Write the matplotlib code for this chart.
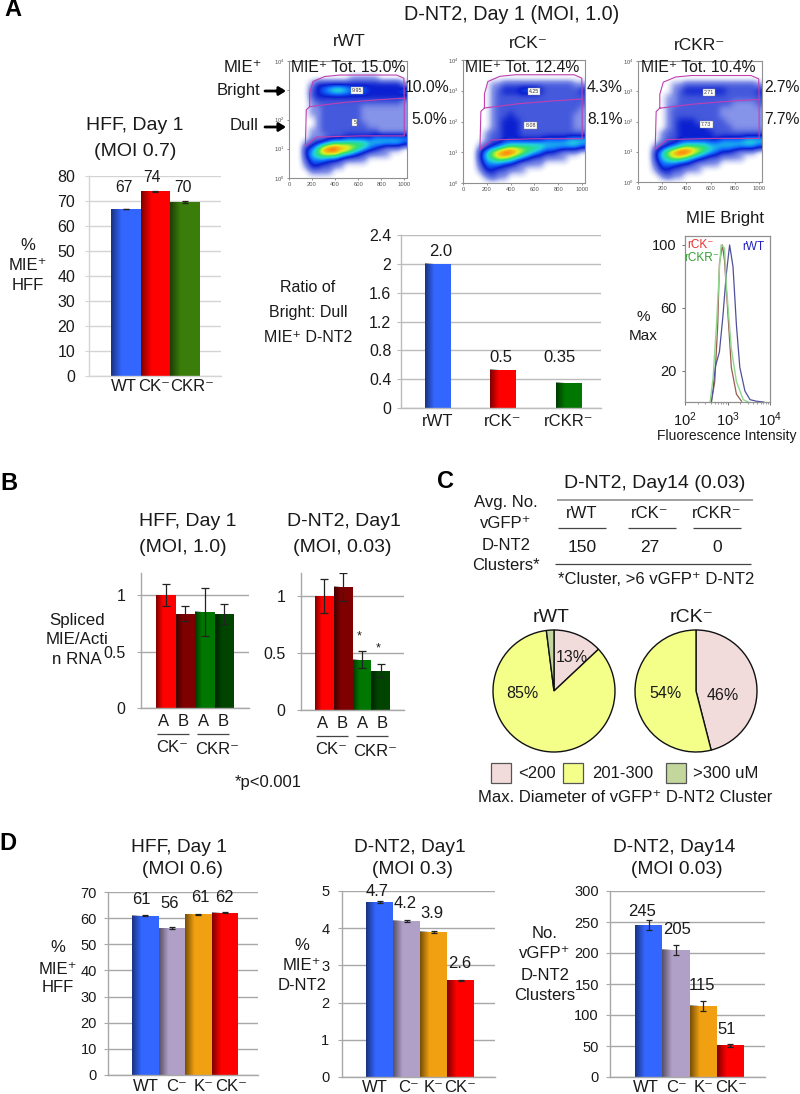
import numpy as np
import matplotlib
matplotlib.use("Agg")
import matplotlib.pyplot as plt
from matplotlib.colors import LinearSegmentedColormap
from matplotlib.patches import Rectangle
from matplotlib.transforms import ScaledTranslation

plt.rcParams['font.family'] = ['Liberation Sans', 'DejaVu Sans']
plt.rcParams['mathtext.fontset'] = 'custom'
plt.rcParams['mathtext.rm'] = 'Liberation Sans'
plt.rcParams['mathtext.it'] = 'Liberation Sans:italic'
plt.rcParams['mathtext.bf'] = 'Liberation Sans:bold'
plt.rcParams['mathtext.default'] = 'regular'

# ---------- data ----------
hff_a_labels = ['WT', 'CK\u207b', 'CKR\u207b']
hff_a_values = [66.7, 73.8, 69.5]
hff_a_err = [0.1, 0.3, 0.3]
ratio_labels = ['rWT', 'rCK\u207b', 'rCKR\u207b']
ratio_values = [2.0, 0.53, 0.35]

hist_rwt_x = [2.62, 2.66, 2.71, 2.81, 2.89, 2.97, 3.05, 3.13, 3.21, 3.29, 3.41, 3.53, 3.68, 3.85]
hist_rwt_y = [0, 8, 22, 32, 54, 81, 100, 86, 49, 22, 7, 1.5, 0.5, 0]
hist_rck_x = [2.62, 2.70, 2.77, 2.81, 2.88, 2.93, 3.01, 3.09, 3.21, 3.33]
hist_rck_y = [0, 13, 49, 88, 100, 90, 56, 22, 5, 0.5]
hist_rckr_x = [2.59, 2.66, 2.74, 2.81, 2.85, 2.93, 2.97, 3.09, 3.21, 3.37, 3.49]
hist_rckr_y = [0, 15, 49, 85, 100, 98, 75, 34, 13, 1.5, 0]

rna_labels = ['A', 'B', 'A', 'B']
rna_hff_values = [1.0, 0.83, 0.85, 0.83]
rna_hff_low = [0.90, 0.77, 0.64, 0.74]
rna_hff_high = [1.10, 0.90, 1.06, 0.92]
rna_dnt_values = [1.0, 1.08, 0.44, 0.34]
rna_dnt_low = [0.85, 0.96, 0.37, 0.29]
rna_dnt_high = [1.15, 1.20, 0.52, 0.40]

pie_rwt = [13, 85, 2]
pie_rck = [46, 54]
table_cols = ['rWT', 'rCK\u207b', 'rCKR\u207b']
table_vals = ['150', '27', '0']
legend_names = ['<200', '201-300', '>300 uM']

d_labels = ['WT', 'C\u207b', 'K\u207b', 'CK\u207b']
d_hff_values = [61.0, 56.2, 61.5, 62.1]
d_hff_err = [0.25, 0.25, 0.25, 0.25]
d_dnt1_values = [4.7, 4.2, 3.9, 2.6]
d_dnt1_err = [0.02, 0.02, 0.02, 0.02]
d_dnt14_values = [245, 205, 115, 51]
d_dnt14_err = [8, 8, 8, 2]

# flow cytometry density: rows are log10 levels 4.0 .. 0.0
# in 0.2 steps, columns are FSC 0 .. 1000 in 50 steps, digit = density class
flow_rwt = [
    "000000000000000000000",
    "000000000000000000000",
    "000000000000000000000",
    "000000000001111100000",
    "000013333333333333331",
    "000023456654443333334",
    "000023333333333333333",
    "000012222222222222221",
    "000011222222211111111",
    "000011222222211111111",
    "000001222222211111111",
    "000001222222221111111",
    "000011222222222211111",
    "000011122233333444444",
    "000123456666665555554",
    "000346899887654321110",
    "000356777654321111000",
    "000244433211110000000",
    "000133221100000000000",
    "000011110000000000000",
    "000000000000000000000",
]
flow_rck = [
    "000000000000000000000",
    "000000000000000000000",
    "000000000000000000000",
    "000000000000000000000",
    "000001122222222222211",
    "000001233344432222223",
    "000001222222222222222",
    "000001222222222222222",
    "000001222222222222221",
    "000001223222222222211",
    "000001233322222222211",
    "000001233322222222211",
    "000012233322222222222",
    "000012233333334444555",
    "000123456666665555554",
    "000357899876543321110",
    "000356776543221111000",
    "000244433211110000000",
    "000133221110000000000",
    "000012110000000000000",
    "000000000000000000000",
]
flow_rckr = [
    "000000000000000000000",
    "000000000000000000000",
    "000000000000000000000",
    "000000000000000000000",
    "000000112222222222221",
    "000000123333333222223",
    "000001122222222222222",
    "000001122222222211112",
    "000001222222221111111",
    "000001222222221111111",
    "000001233322222111111",
    "000001233333222211111",
    "000012233333322222222",
    "000012233333334444555",
    "000123456666555555554",
    "000357899876543321110",
    "000356776543221111000",
    "000244433211110000000",
    "000133221110000000000",
    "000012110000000000000",
    "000000000000000000000",
]
gate_bright_x = [180, 180, 209, 310, 440, 933, 997, 1000, 759, 470, 180]
gate_bright_y = [2.44, 2.90, 3.30, 3.47, 3.52, 3.52, 3.41, 2.73, 2.67, 2.58, 2.44]
gate_dull_x = [180, 150, 142, 238, 615, 1000, 1000]
gate_dull_y = [2.44, 2.33, 1.08, 1.40, 1.44, 1.44, 2.73]

# ---------- colours ----------
BLUE, RED, GREEN = '#3366ff', '#ff0000', '#3a7d0a'
DGREEN, DRED, DDGREEN = '#007700', '#7f0000', '#004400'
LAV, ORG = '#b0a0c8', '#f0a010'
PINK, YEL, OLV = '#f2dcdb', '#f4ff8a', '#c3d69b'
TXT = '#1a1a1a'
GRID = '#a8a8a8'
flow_cmap = LinearSegmentedColormap.from_list('flow', [
    (0 / 9, '#ffffff'), (1 / 9, '#8492e8'), (2 / 9, '#4458dc'), (3 / 9, '#0a20d0'),
    (4 / 9, '#1070ff'), (5 / 9, '#20d0e0'), (6 / 9, '#30e070'), (7 / 9, '#e0f020'),
    (8 / 9, '#ff9010'), (9 / 9, '#e02010')])

fig = plt.figure(figsize=(8, 10.94), dpi=100, facecolor='white')


def ax_px(l, t, r, b):
    return fig.add_axes([l / 800, 1 - b / 1094, (r - l) / 800, (b - t) / 1094])


shade = np.zeros((1, 40, 4))
shade[0, :, 3] = np.clip(0.5 * (1 - np.linspace(0, 1, 40) / 0.35), 0, 1)


def bar_chart(box, first, width, values, colors, ylim, yticks, ylabels, xlabels,
              err=None, low=None, high=None, ysize=11, xsize=12, pad=5, xoff=None,
              grid=GRID, xpad=3):
    l, t, r, b = box
    ax = ax_px(l, t, r, b)
    x0 = -0.5 - (first - l) / width
    xlim = (x0, x0 + (r - l) / width)
    xs = np.arange(len(values))
    bars = ax.bar(xs, values, width=1.0, color=colors, zorder=2)
    for bar in bars:
        ax.imshow(shade, extent=(bar.get_x(), bar.get_x() + bar.get_width(), 0, bar.get_height()),
                  aspect='auto', zorder=2.5)
    if err is not None:
        ax.errorbar(xs, values, yerr=err, fmt='none', ecolor='#222222', elinewidth=0.9,
                    capsize=2.5, capthick=0.9, zorder=3)
    if low is not None:
        lo = np.array(values) - np.array(low)
        hi = np.array(high) - np.array(values)
        ax.errorbar(xs, values, yerr=[lo, hi], fmt='none', ecolor='#222222', elinewidth=0.9,
                    capsize=3, capthick=0.9, zorder=3)
    ax.set_xlim(*xlim)
    ax.set_ylim(*ylim)
    ax.set_yticks(yticks)
    ax.set_yticklabels(ylabels, fontsize=ysize, color=TXT)
    ax.set_xticks(xs)
    ax.set_xticklabels(xlabels, fontsize=xsize, color=TXT)
    ax.tick_params(axis='y', length=3, color=grid, pad=pad)
    ax.tick_params(axis='x', length=0, pad=xpad)
    ax.set_axisbelow(True)
    ax.grid(axis='y', color=grid, lw=1)
    for s in ('top', 'right'):
        ax.spines[s].set_visible(False)
    for s in ('left', 'bottom'):
        ax.spines[s].set_color(grid)
        ax.spines[s].set_linewidth(1)
    if xoff is not None:
        for lab, dx in zip(ax.get_xticklabels(), xoff):
            lab.set_transform(lab.get_transform() + ScaledTranslation(dx / 100, 0, fig.dpi_scale_trans))
    return ax


def flow_plot(box, grid_rows, tags):
    l, t, r, b = box
    ax = ax_px(l, t, r, b)
    arr = np.array([[int(c) for c in row] for row in grid_rows], dtype=float)
    ax.imshow(arr, extent=(-25, 1025, -0.1, 4.1), origin='upper', aspect='auto', cmap=flow_cmap,
              vmin=0, vmax=9, interpolation='bicubic', zorder=1)
    ax.plot(gate_bright_x, gate_bright_y, color='#c040b0', lw=0.8, zorder=2)
    ax.plot(gate_dull_x, gate_dull_y, color='#c040b0', lw=0.8, zorder=2)
    ax.set_xlim(0, 1024)
    ax.set_ylim(0, 4)
    ax.set_xticks([0, 200, 400, 600, 800, 1000])
    ax.set_xticklabels(['0', '200', '400', '600', '800', '1000'], fontsize=4.2, color='#555555')
    ax.set_yticks([0, 1, 2, 3, 4])
    ax.set_yticklabels(['$10^{%d}$' % i for i in range(5)], fontsize=4.2, color='#555555')
    ax.tick_params(length=1.5, width=0.5, color='#666666', pad=1.5)
    for s in ax.spines.values():
        s.set_color('#909090')
        s.set_linewidth(0.8)
    for tx, ty, ts in tags:
        ax.text(tx, ty, ts, fontsize=3.8, ha='center', va='center', color='#333333', zorder=4,
                bbox=dict(fc='white', ec='#888888', lw=0.3, pad=0.8))
    return ax


# ---------- panel A ----------
bar_chart((89, 176, 221, 376), 111, 29.5, hff_a_values, [BLUE, RED, GREEN], (0, 80),
          list(range(0, 90, 10)), [str(v) for v in range(0, 90, 10)], hff_a_labels,
          err=hff_a_err, ysize=11.5, pad=7, grid='#d4d4d4', xoff=[-2, -1, 7], xpad=2)
bar_chart((401, 235, 601, 408), 425, 26, [ratio_values[0]], [BLUE], (0, 2.4),
          [0, 0.4, 0.8, 1.2, 1.6, 2, 2.4], ['0', '0.4', '0.8', '1.2', '1.6', '2', '2.4'],
          [ratio_labels[0]], ysize=11.5, pad=4, xpad=4, grid='#bcbcbc', xoff=[0])
ratio_ax = fig.axes[-1]
for i, (v, c, left) in enumerate(zip(ratio_values[1:], [RED, DGREEN], [490, 556])):
    pos = (left + 13 - 425) / 26 - 0.5
    ratio_ax.bar(pos, v, width=1.0, color=c, zorder=2)
    ratio_ax.imshow(shade, extent=(pos - 0.5, pos + 0.5, 0, v), aspect='auto', zorder=2.5)
ratio_ax.set_xlim(-0.5 - 24 / 26, -0.5 - 24 / 26 + 200 / 26)
ratio_ax.set_ylim(0, 2.4)
ratio_ax.set_xticks([0, (490 + 13 - 425) / 26 - 0.5, (556 + 13 - 425) / 26 - 0.5])
ratio_ax.set_xticklabels(ratio_labels, fontsize=12, color=TXT)

flow_plot((289, 61, 407, 178), flow_rwt, [(591, 2.99, '9.95'), (571, 1.9, '5')])
flow_plot((463, 60, 585, 183), flow_rck, [(594, 2.97, '4.25'), (569, 1.88, '8.08')])
flow_plot((638, 61, 762, 182), flow_rckr, [(586, 2.96, '2.71'), (565, 1.9, '7.73')])

hist = ax_px(685, 236, 770, 402)
hist.plot(np.power(10.0, hist_rck_x), hist_rck_y, color='#9a5a50', lw=0.9)
hist.plot(np.power(10.0, hist_rwt_x), hist_rwt_y, color='#50509a', lw=0.9)
hist.plot(np.power(10.0, hist_rckr_x), hist_rckr_y, color='#90d890', lw=1.0)
hist.set_xscale('log')
hist.set_xlim(100, 10000)
hist.set_ylim(0, 105.7)
hist.set_yticks([20, 60, 100])
hist.set_yticklabels(['20', '60', '100'], fontsize=10.5, color=TXT)
hist.set_xticks([100, 1000, 10000])
hist.set_xticklabels(['$10^{2}$', '$10^{3}$', '$10^{4}$'], fontsize=10.5, color=TXT)
hist.tick_params(axis='both', length=2, width=0.6, color='#555555', pad=4)
hist.tick_params(axis='x', which='minor', length=1.2, width=0.4, color='#555555')
for s in hist.spines.values():
    s.set_color('#909090')
    s.set_linewidth(0.9)

# ---------- panel B ----------
bar_chart((141, 573, 249, 708), 156, 19.5, rna_hff_values, [RED, DRED, DGREEN, DDGREEN], (0, 1.195),
          [0, 0.5, 1], ['0', '0.5', '1'], rna_labels, low=rna_hff_low, high=rna_hff_high,
          ysize=11.5, pad=8, xpad=4, xoff=[-2, -2, -1, -1])
bar_chart((301, 573, 404, 710), 315, 18.75, rna_dnt_values, [RED, DRED, DGREEN, DDGREEN], (0, 1.202),
          [0, 0.5, 1], ['0', '0.5', '1'], rna_labels, low=rna_dnt_low, high=rna_dnt_high,
          ysize=11.5, pad=8, xpad=4, xoff=[-2, -1, 1, 2])

# ---------- panel C ----------
for cx, vals, cols in [(554, pie_rwt, [PINK, YEL, OLV]), (696, pie_rck, [PINK, YEL])]:
    pax = ax_px(cx - 62, 691 - 62, cx + 62, 691 + 62)
    pax.pie(vals, colors=cols, startangle=90, counterclock=False, radius=61 / 62,
            wedgeprops=dict(edgecolor='#111111', linewidth=1.0))
    pax.set_xlim(-1, 1)
    pax.set_ylim(-1, 1)

# ---------- panel D ----------
d_cols = [BLUE, LAV, ORG, RED]
bar_chart((108, 892, 258, 1075), 132, 26.5, d_hff_values, d_cols, (0, 70),
          list(range(0, 80, 10)), [str(v) for v in range(0, 80, 10)], d_labels,
          err=d_hff_err, ysize=10.5, pad=5, xoff=[1, 5, 5, 6], xpad=3)
bar_chart((342, 891, 495, 1077), 366, 27, d_dnt1_values, d_cols, (0, 5),
          [0, 1, 2, 3, 4, 5], ['0', '1', '2', '3', '4', '5'], d_labels,
          err=d_dnt1_err, ysize=10.5, pad=6, xoff=[-5, 2, 0, 0], xpad=2)
bar_chart((610, 891, 765, 1077), 635, 27.25, d_dnt14_values, d_cols, (0, 300),
          list(range(0, 350, 50)), [str(v) for v in range(0, 350, 50)], d_labels,
          err=d_dnt14_err, ysize=10.5, pad=5, xoff=[-3, 1, 0, 1], xpad=2)

# ---------- overlay text and furniture in pixel coordinates ----------
ov = fig.add_axes([0, 0, 1, 1], facecolor='none')
ov.set_xlim(0, 800)
ov.set_ylim(1094, 0)
ov.axis('off')


def T(x, y, s, size=12, color=TXT, weight='normal', ha='center'):
    ov.text(x, y, s, fontsize=size, color=color, weight=weight, ha=ha, va='center')


def L(x0, x1, y, color='#444444', lw=0.9):
    ov.plot([x0, x1], [y, y], color=color, lw=lw, solid_capstyle='butt')


for x, y, s in [(13, 10, 'A'), (9, 483, 'B'), (446, 481, 'C'), (8, 843, 'D')]:
    T(x, y, s, size=17, color='black', weight='bold')

T(512, 15, 'D-NT2, Day 1 (MOI, 1.0)', 14.2)
T(349, 42, 'rWT', 12.5)
T(528, 44, 'rCK\u207b', 12.5)
T(700, 45, 'rCKR\u207b', 12.5)
T(348, 68, 'MIE\u207a Tot. 15.0%', 11.3)
T(522, 68, 'MIE\u207a Tot. 12.4%', 11.3)
T(698, 68, 'MIE\u207a Tot. 10.4%', 11.3)
for x, a, b in [(427, '10.0%', '5.0%'), (605, '4.3%', '8.1%'), (782, '2.7%', '7.7%')]:
    T(x, 87, a, 11.3)
    T(x + (2 if a == '10.0%' else 0), 119, b, 11.3)
T(243, 68, 'MIE\u207a', 12)
T(239, 90, 'Bright', 12)
T(244, 125, 'Dull', 12)
for y in (91, 127):
    ov.annotate('', xy=(286, y), xytext=(265, y),
                arrowprops=dict(arrowstyle='-|>,head_width=0.25,head_length=0.4', color='black', lw=2, shrinkA=0, shrinkB=0))

T(135, 126, 'HFF, Day 1', 14)
T(135, 152, '(MOI 0.7)', 14)
T(28, 246, '%', 12)
T(28, 266, 'MIE\u207a', 12)
T(28, 286, 'HFF', 12)
for x, y, s in [(124, 187, '67'), (152, 177, '74'), (183, 187, '70')]:
    T(x, y, s, 11.3)

T(308, 288, 'Ratio of', 11.5)
T(308, 313, 'Bright: Dull', 11.5)
T(308, 337, 'MIE\u207a D-NT2', 11.5)
for x, y, s in [(441, 251, '2.0'), (501, 358, '0.5'), (559, 358, '0.35')]:
    T(x, y, s, 12)

T(725, 219, 'MIE Bright', 12)
T(643, 317, '%', 11)
T(643, 336, 'Max', 11)
T(727, 436, 'Fluorescence Intensity', 10)
T(700, 245, 'rCK\u207b', 8.5, color='#e83030')
T(702, 258, 'rCKR\u207b', 8.5, color='#30a030')
T(753, 247, 'rWT', 8.5, color='#2020c0')

T(188, 521, 'HFF, Day 1', 14)
T(183, 547, '(MOI, 1.0)', 14)
T(344, 521, 'D-NT2, Day1', 14)
T(342, 547, '(MOI, 0.03)', 14)
T(77, 620, 'Spliced', 12.2)
T(77, 640, 'MIE/Acti', 12.2)
T(77, 660, 'n RNA', 12.2)
for x0, x1, y in [(157, 189, 734), (197, 229, 734), (316, 348, 736), (356, 388, 736)]:
    L(x0, x1, y)
T(172, 747, 'CK\u207b', 12)
T(217, 749, 'CKR\u207b', 12)
T(331, 749, 'CK\u207b', 12)
T(375, 751, 'CKR\u207b', 12)
T(359, 636, '*', 9)
T(378, 648, '*', 9)
T(268, 783, '*p<0.001', 12)

T(655, 483, 'D-NT2, Day14 (0.03)', 14)
for y, s in [(502, 'Avg. No.'), (523, 'vGFP\u207a'), (545, 'D-NT2'), (566, 'Clusters*')]:
    T(506, y, s, 12)
for x, c, v in zip([582, 650, 717], table_cols, table_vals):
    T(x, 513, c, 12)
    T(x, 548, v, 12.5)
L(557, 753, 500, '#888888', 1.1)
for x0, x1 in [(558, 606), (628, 676), (693, 741)]:
    L(x0, x1, 528)
L(555, 751, 564)
T(656, 580, '*Cluster, >6 vGFP\u207a D-NT2', 12)
T(551, 617, 'rWT', 14)
T(692, 617, 'rCK\u207b', 14)
for x, y, s in [(572, 658, '13%'), (522, 693, '85%'), (665, 694, '54%'), (723, 695, '46%')]:
    T(x, y, s, 11.5)
for x0, c, tx, s in zip([491, 563, 666], [PINK, YEL, OLV], [537, 623, 726], legend_names):
    ov.add_patch(Rectangle((x0, 763), 20, 20, fc=c, ec='#555555', lw=0.9))
    T(tx, 774, s, 12)
T(625, 798, 'Max. Diameter of vGFP\u207a D-NT2 Cluster', 12)

for x, a, b, sb in [(179, 'HFF, Day 1', '(MOI 0.6)', 3), (410, 'D-NT2, Day1', '(MOI 0.3)', 3),
                    (674, 'D-NT2, Day14', '(MOI 0.03)', 3)]:
    T(x, 847, a, 13.8)
    T(x + sb, 870, b, 13.8)
for y, s in [(948, '%'), (969, 'MIE\u207a'), (987, 'HFF')]:
    T(58, y, s, 12)
for y, s in [(946, '%'), (966, 'MIE\u207a'), (986, 'D-NT2')]:
    T(302, y, s, 12)
for y, s in [(933, 'No.'), (954, 'vGFP\u207a'), (975, 'D-NT2'), (996, 'Clusters')]:
    T(545, y, s, 12)
for x, y, s in [(141, 900, '61'), (170, 903, '56'), (200, 898, '61'), (224, 898, '62'),
                (377, 891, '4.7'), (405, 903, '4.2'), (432, 913, '3.9'), (460, 963, '2.6'),
                (642, 912, '245'), (677, 929, '205'), (702, 985, '115'), (727, 1030, '51')]:
    T(x, y, s, 12)

fig.savefig('out.png', dpi=100, facecolor='white')
